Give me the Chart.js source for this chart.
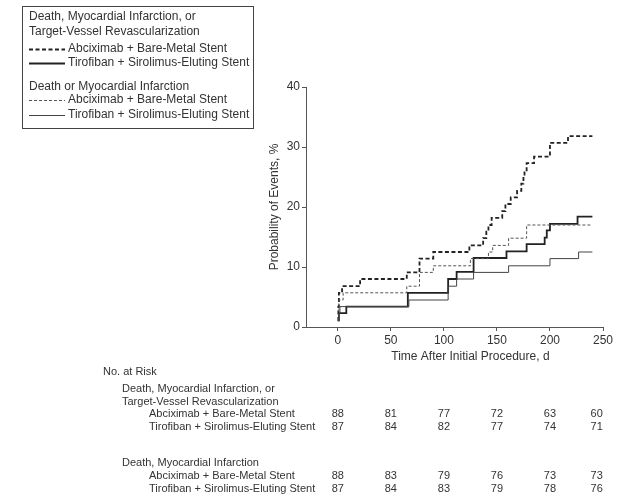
<!DOCTYPE html>
<html lang="en">

<head>
  <meta charset="UTF-8">
  <title>Kaplan-Meier</title>
  <style>
    body { margin: 0; background: #fff; }
  </style>
</head>

<body>
  <canvas id="chart" width="623" height="498"></canvas>

  <script src="https://cdn.jsdelivr.net/npm/chart.js@4/dist/chart.umd.min.js"></script>

  <script>
    // death, MI or TVR - abciximab + bare-metal stent (thick dashed)
    const aDays = [0, 0.5, 1, 4, 21, 65, 77, 90, 124, 137, 140, 142, 145, 155, 158, 163, 169, 173, 175, 176, 178, 185, 200, 217, 240]
    const aVals = [1.1, 3.4, 5.7, 6.8, 8.0, 9.1, 11.4, 12.5, 13.6, 14.8, 15.9, 17.0, 18.2, 19.3, 20.5, 21.6, 22.7, 23.9, 25.0, 26.1, 27.3, 28.4, 30.7, 31.8, 31.8]
    // death, MI or TVR - tirofiban + sirolimus-eluting stent (thick solid)
    const bDays = [0, 1, 8, 66, 104, 112, 128, 159, 178, 195, 197, 200, 226, 240]
    const bVals = [1.1, 2.3, 3.4, 5.7, 8.0, 9.2, 11.5, 12.6, 13.8, 14.9, 16.1, 17.2, 18.4, 18.4]
    // death or MI - abciximab (thin dashed)
    const cDays = [0, 1, 5, 65, 77, 90, 125, 142, 146, 161, 178, 240]
    const cVals = [1.1, 4.5, 5.7, 6.8, 9.1, 10.2, 11.4, 12.5, 13.6, 14.8, 17.0, 17.0]
    // death or MI - tirofiban (thin solid)
    const dDays = [0, 1, 2, 67, 104, 112, 128, 161, 200, 227, 240]
    const dVals = [1.1, 2.3, 3.4, 4.5, 6.8, 8.0, 9.1, 10.2, 11.4, 12.5, 12.5]

    const xTicks = [0, 50, 100, 150, 200, 250]
    const yTicks = [0, 10, 20, 30, 40]

    // number at risk table
    const riskDays = [0, 50, 100, 150, 200, 244]
    const riskA1 = [88, 81, 77, 72, 63, 60]
    const riskB1 = [87, 84, 82, 77, 74, 71]
    const riskA2 = [88, 83, 79, 76, 73, 73]
    const riskB2 = [87, 84, 83, 79, 78, 76]

    const pts = (xs, ys) => xs.map((x, i) => ({ x: x, y: ys[i] }))
    const FONT = '"Liberation Sans", Arial, Helvetica, sans-serif'
    const TXT = '#333'

    const textPlugin = {
      id: 'texts',
      afterDraw(chart) {
        const c = chart.ctx
        const xs = chart.scales.x
        c.save()
        c.fillStyle = TXT
        c.textBaseline = 'middle'

        // axis titles
        c.font = '12px ' + FONT
        c.textAlign = 'center'
        c.fillText('Time After Initial Procedure, d', (xs.getPixelForValue(0) + xs.getPixelForValue(250)) / 2, 357)
        c.save()
        c.translate(275, 207)
        c.rotate(-Math.PI / 2)
        c.fillText('Probability of Events, %', 0, 0)
        c.restore()

        // legend box
        c.strokeStyle = '#444'
        c.lineWidth = 1
        c.strokeRect(22.5, 6.5, 231, 122)
        c.textAlign = 'left'
        c.fillText('Death, Myocardial Infarction, or', 29, 17)
        c.fillText('Target-Vessel Revascularization', 29, 32)
        c.fillText('Death or Myocardial Infarction', 29, 87)
        const rows = [
          { y: 49, label: 'Abciximab + Bare-Metal Stent', w: 1.8, dash: [4, 2.5], col: '#222' },
          { y: 63, label: 'Tirofiban + Sirolimus-Eluting Stent', w: 1.8, dash: [], col: '#222' },
          { y: 100, label: 'Abciximab + Bare-Metal Stent', w: 1, dash: [3, 2], col: '#555' },
          { y: 115, label: 'Tirofiban + Sirolimus-Eluting Stent', w: 1, dash: [], col: '#444' }
        ]
        for (const r of rows) {
          c.beginPath()
          c.setLineDash(r.dash)
          c.lineWidth = r.w
          c.strokeStyle = r.col
          c.moveTo(29, r.y + 0.5)
          c.lineTo(65, r.y + 0.5)
          c.stroke()
          c.fillText(r.label, 68, r.y)
        }
        c.setLineDash([])

        // number at risk
        c.font = '11px ' + FONT
        c.fillText('No. at Risk', 103, 372)
        c.fillText('Death, Myocardial Infarction, or', 122, 389)
        c.fillText('Target-Vessel Revascularization', 122, 402)
        c.fillText('Abciximab + Bare-Metal Stent', 149, 414)
        c.fillText('Tirofiban + Sirolimus-Eluting Stent', 149, 427)
        c.fillText('Death, Myocardial Infarction', 122, 463)
        c.fillText('Abciximab + Bare-Metal Stent', 149, 476)
        c.fillText('Tirofiban + Sirolimus-Eluting Stent', 149, 489)
        c.textAlign = 'center'
        const table = [[riskA1, 414], [riskB1, 427], [riskA2, 476], [riskB2, 489]]
        for (const [vals, y] of table) {
          vals.forEach((v, i) => c.fillText(String(v), xs.getPixelForValue(riskDays[i]), y))
        }
        c.restore()
      }
    }

    const ctx = document.getElementById('chart').getContext('2d')
    new Chart(ctx, {
      type: 'line',
      data: {
        datasets: [
          { data: pts(dDays, dVals), borderColor: '#444', borderWidth: 1 },
          { data: pts(cDays, cVals), borderColor: '#555', borderWidth: 1, borderDash: [3, 2] },
          { data: pts(bDays, bVals), borderColor: '#222', borderWidth: 1.8 },
          { data: pts(aDays, aVals), borderColor: '#222', borderWidth: 1.8, borderDash: [4, 2.5] }
        ]
      },
      options: {
        responsive: false,
        devicePixelRatio: 1,
        animation: false,
        datasets: { line: { stepped: true, pointRadius: 0, fill: false } },
        layout: { padding: { left: 266, right: 20, top: 87, bottom: 141 } },
        plugins: { legend: { display: false }, tooltip: { enabled: false } },
        scales: {
          x: {
            type: 'linear',
            min: -30,
            max: 250,
            afterBuildTicks: s => { s.ticks = xTicks.map(v => ({ value: v })) },
            afterFit: s => { s.height = 30 },
            grid: { drawOnChartArea: false, tickLength: 4, color: '#555' },
            border: { color: '#555', width: 1 },
            ticks: { color: TXT, padding: 2, font: { family: FONT, size: 12 } }
          },
          y: {
            min: 0,
            max: 40,
            afterBuildTicks: s => { s.ticks = yTicks.map(v => ({ value: v })) },
            afterFit: s => { s.width = 40 },
            grid: { drawOnChartArea: false, tickLength: 4, color: '#555' },
            border: { color: '#555', width: 1 },
            ticks: { color: TXT, padding: 2, font: { family: FONT, size: 12 } }
          }
        }
      },
      plugins: [textPlugin]
    })
  </script>
</body>

</html>
